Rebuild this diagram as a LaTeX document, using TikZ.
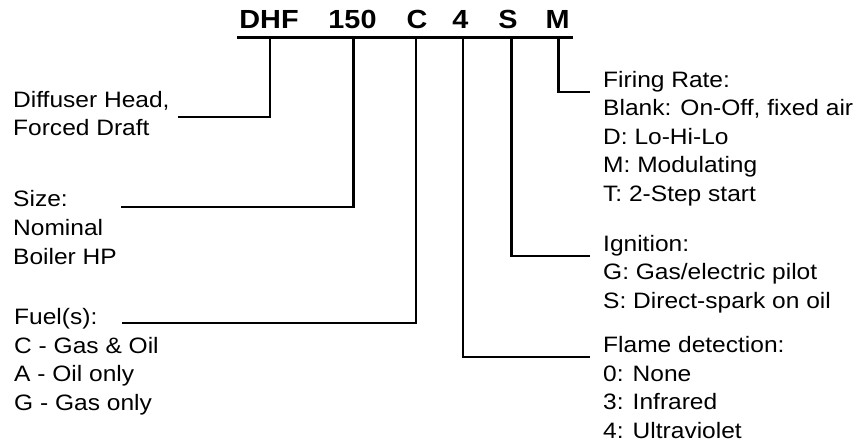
\documentclass[tikz,border=0pt]{standalone}
\usepackage{fontspec}
\setmainfont{Liberation Sans}[FakeStretch=1.10]
\begin{document}
\begin{tikzpicture}[x=1pt,y=-1pt,
  lbl/.style={inner sep=0pt,anchor=base west,align=left,
    font=\fontsize{22.3}{28.6}\selectfont},
  code/.style={inner sep=0pt,anchor=base,font=\fontsize{26.2}{30}\selectfont\bfseries},
  conn/.style={line width=2.3pt},
  bar/.style={line width=3pt}]
\useasboundingbox (0,0) rectangle (860,444);
% code letters
\node[code] (cDHF) at (269,28.3) {DHF};
\node[code] (c150) at (352.5,28.3) {150};
\node[code] (cC) at (417,28.3) {C};
\node[code] (c4) at (460.5,28.3) {4};
\node[code] (cS) at (508,28.3) {S};
\node[code] (cM) at (557.5,28.3) {M};
\coordinate (barL) at (237,38);
\coordinate (barR) at (573,38);
\draw[bar] (barL) -- (barR);
% tick tops
\coordinate (tDHF) at (270,38);
\coordinate (t150) at (353.5,38);
\coordinate (tC) at (416,38);
\coordinate (t4) at (463,38);
\coordinate (tS) at (511.5,38);
\coordinate (tM) at (558.5,38);
% labels (anchored at the baseline of their last line)
\node[lbl] (diff) at (13,135.8) {Diffuser Head,\\Forced Draft};
\node[lbl] (size) at (13,264) {Size:\\Nominal\\Boiler HP};
\node[lbl] (fuel) at (14,410.5) {Fuel(s):\\C - Gas \& Oil\\A - Oil only\\G - Gas only};
\node[lbl] (fire) at (603,201.5) {Firing Rate:\\Blank: On-Off, fixed air\\D: Lo-Hi-Lo\\M: Modulating\\T: 2-Step start};
\node[lbl] (ign) at (603,308.3) {Ignition:\\G: Gas/electric pilot\\S: Direct-spark on oil};
\node[lbl] (flame) at (603,438.5) {Flame detection:\\0: None\\3: Infrared\\4: Ultraviolet};
% connector ends
\coordinate (eDHF) at (178,117.3);
\coordinate (e150) at (121,207);
\coordinate (eC) at (122,323.3);
\coordinate (e4) at (590,356.7);
\coordinate (eS) at (590,256);
\coordinate (eM) at (590,92.3);
\draw[conn] (tDHF) |- (eDHF);
\draw[conn] (t150) |- (e150);
\draw[conn] (tC) |- (eC);
\draw[conn] (t4) |- (e4);
\draw[conn] (tS) |- (eS);
\draw[conn] (tM) |- (eM);
\end{tikzpicture}
\end{document}
